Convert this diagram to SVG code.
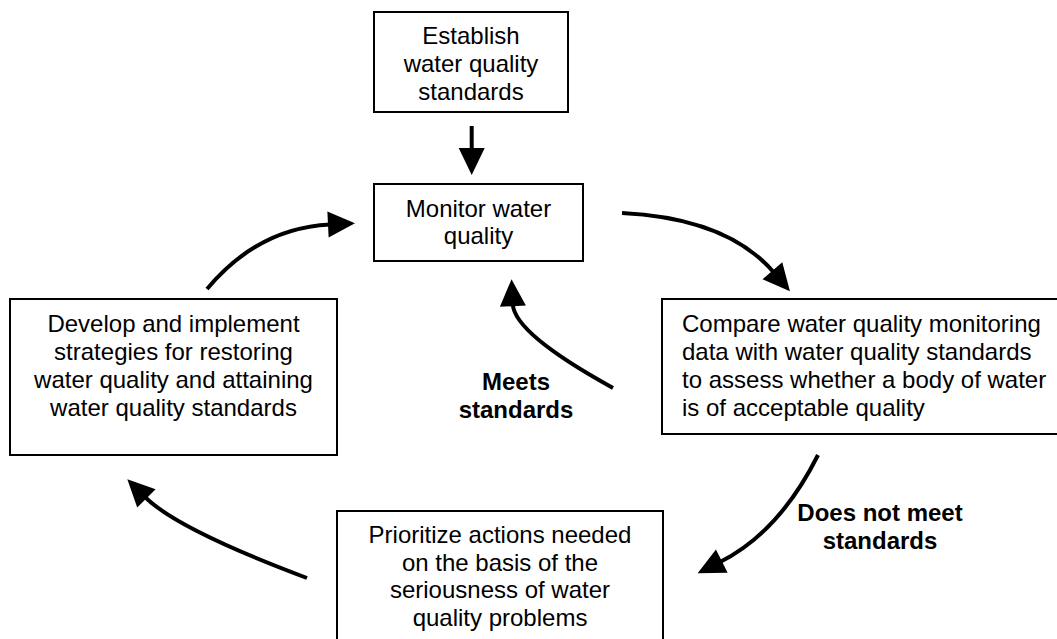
<svg xmlns="http://www.w3.org/2000/svg" width="1057" height="639" viewBox="0 0 1057 639">
<style>
  .box { fill: #ffffff; stroke: #000000; stroke-width: 2; }
  .t { font-family: "Liberation Sans", Arial, sans-serif; font-size: 24px; fill: #000000; }
  .c { text-anchor: middle; }
  .b { font-weight: bold; }
  .arr { fill: none; stroke: #000000; stroke-width: 4; stroke-linecap: butt; }
</style>
<defs>
  <marker id="head" markerUnits="userSpaceOnUse" viewBox="-3 -14 29 28" markerWidth="29" markerHeight="28" refX="0" refY="0" orient="auto">
    <path d="M-2,-13 L25,0 L-2,13 Z" fill="#000000"/>
  </marker>
</defs>
<rect x="0" y="0" width="1057" height="639" fill="#ffffff"/>

<g id="connectors">
  <path class="arr" d="M471.7,126 L471.7,150" marker-end="url(#head)"/>
  <path class="arr" d="M622,213 Q727.5,218.3 773.7,272.3" marker-end="url(#head)"/>
  <path class="arr" d="M613,388 Q514.3,333.7 512.8,304.2" marker-end="url(#head)"/>
  <path class="arr" d="M818,455 Q779.3,532.3 720,562" marker-end="url(#head)"/>
  <path class="arr" d="M307,578 Q177.4,529.4 145,497" marker-end="url(#head)"/>
  <path class="arr" d="M207,289 Q258,228 330,224.5" marker-end="url(#head)"/>
</g>

<g id="node-establish">
  <rect class="box" x="374" y="12" width="194" height="100"/>
  <text class="t c" x="471" y="44">Establish</text>
  <text class="t c" x="471" y="72">water quality</text>
  <text class="t c" x="471" y="100">standards</text>
</g>

<g id="node-monitor">
  <rect class="box" x="374" y="184" width="209" height="77"/>
  <text class="t c" x="478.5" y="216.5">Monitor water</text>
  <text class="t c" x="478.5" y="244">quality</text>
</g>

<g id="node-compare">
  <rect class="box" x="662" y="299" width="400" height="135"/>
  <text class="t" x="682" y="332">Compare water quality monitoring</text>
  <text class="t" x="682" y="360">data with water quality standards</text>
  <text class="t" x="682" y="388">to assess whether a body of water</text>
  <text class="t" x="682" y="416">is of acceptable quality</text>
</g>

<g id="node-prioritize">
  <rect class="box" x="337" y="511" width="326" height="140"/>
  <text class="t c" x="500" y="543">Prioritize actions needed</text>
  <text class="t c" x="500" y="570.5">on the basis of the</text>
  <text class="t c" x="500" y="598">seriousness of water</text>
  <text class="t c" x="500" y="625.5">quality problems</text>
</g>

<g id="node-develop">
  <rect class="box" x="10" y="299" width="327" height="156"/>
  <text class="t c" x="173.5" y="332">Develop and implement</text>
  <text class="t c" x="173.5" y="360">strategies for restoring</text>
  <text class="t c" x="173.5" y="388">water quality and attaining</text>
  <text class="t c" x="173.5" y="416">water quality standards</text>
</g>

<g id="label-meets">
  <text class="t c b" x="516" y="390">Meets</text>
  <text class="t c b" x="516" y="418">standards</text>
</g>

<g id="label-notmeet">
  <text class="t c b" x="880" y="521">Does not meet</text>
  <text class="t c b" x="880" y="549">standards</text>
</g>
</svg>
